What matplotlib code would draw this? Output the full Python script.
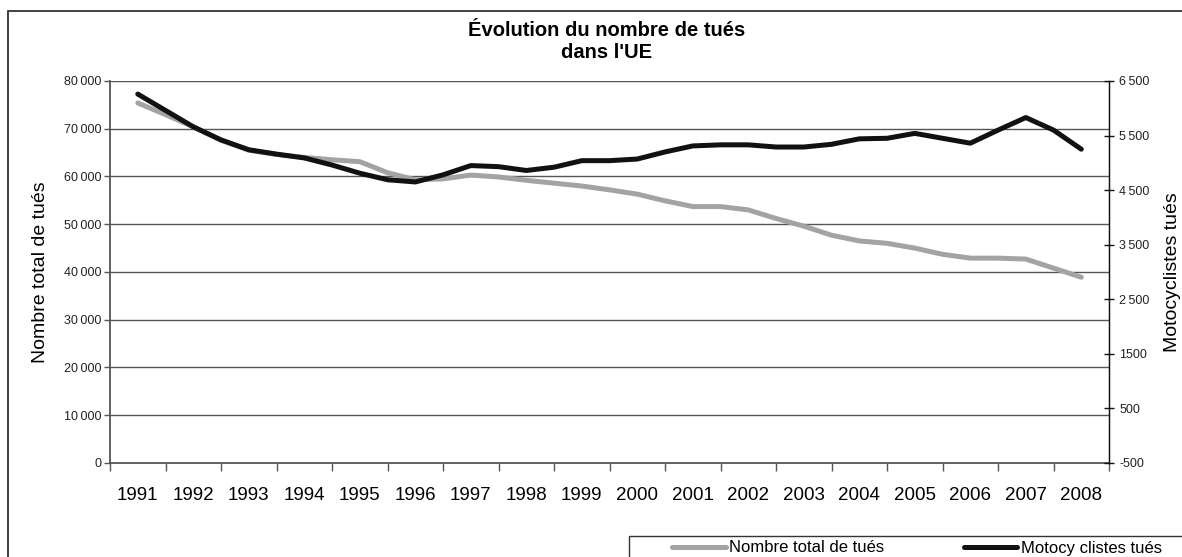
import numpy as np
import matplotlib.pyplot as plt
from matplotlib.lines import Line2D
from matplotlib.patches import Rectangle

plt.rcParams["font.family"] = ["Liberation Sans", "DejaVu Sans"]

# --- données (lectures sur le graphique, tous les semestres) ---
annees = [str(a) for a in range(1991, 2009)]

# nombre total de tués (axe de gauche)
total_tues = [
    75400, 72950, 70400, 67600, 65500, 64600, 64000, 63500, 63100, 60800,
    59300, 59500, 60300, 59900, 59200, 58600, 58000, 57200, 56300, 54900,
    53700, 53700, 53000, 51200, 49600, 47700, 46500, 46000, 45000, 43700,
    42900, 42900, 42700, 40800, 38900,
]

# motocyclistes tués (axe de droite)
moto_tues = [
    6260, 5960, 5660, 5420, 5240, 5160, 5090, 4960, 4810, 4690,
    4650, 4780, 4950, 4930, 4860, 4920, 5040, 5040, 5070, 5200,
    5310, 5330, 5330, 5290, 5290, 5340, 5440, 5450, 5540, 5450,
    5360, 5600, 5830, 5600, 5250,
]

gauche_ticks = list(range(0, 80001, 10000))
gauche_labels = ["0", "10\u2009000", "20\u2009000", "30\u2009000", "40\u2009000",
                 "50\u2009000", "60\u2009000", "70\u2009000", "80\u2009000"]
droite_ticks = list(range(-500, 6501, 1000))
droite_labels = ["-500", "500", "1500", "2\u2009500", "3\u2009500",
                 "4\u2009500", "5\u2009500", "6\u2009500"]

pos = np.arange(len(total_tues)) * 0.5

fig = plt.figure(figsize=(11.82, 5.57), dpi=100)
ax = fig.add_axes([0.0931, 0.1688, 0.8452, 0.6858])
ax2 = ax.twinx()

gris = "#a3a3a3"
noir = "#111111"

ax.plot(pos, total_tues, color=gris, lw=3.6, solid_joinstyle="round",
        solid_capstyle="round")
ax2.plot(pos, moto_tues, color=noir, lw=3.6, solid_joinstyle="round",
         solid_capstyle="round")

# axe gauche
ax.set_ylim(0, 80000)
ax.set_yticks(gauche_ticks)
ax.set_yticklabels(gauche_labels)
ax.tick_params(axis="y", direction="out", length=4, width=1, color="#555555",
               labelsize=9, pad=2, labelcolor="#222222")
for y in gauche_ticks[1:]:
    ax.axhline(y, color="#555555", lw=1.0, zorder=0)
ax.set_ylabel("Nombre total de tués", fontsize=14, labelpad=11)

# axe des x : catégories
ax.set_xlim(-0.5, 17.5)
ax.set_xticks(np.arange(-0.5, 18.0, 1.0))
ax.set_xticklabels([])
ax.set_xticks(np.arange(18), minor=True)
ax.set_xticklabels(annees, minor=True)
ax.tick_params(axis="x", which="major", direction="out", length=6, width=1,
               color="#555555")
ax.tick_params(axis="x", which="minor", length=0, labelsize=13.5, pad=17)

# axe droit
ax2.set_ylim(-500, 6500)
ax2.set_yticks(droite_ticks)
ax2.set_yticklabels(droite_labels)
ax2.tick_params(axis="y", direction="inout", length=7, width=1, color="#111111",
                labelsize=9, pad=4, labelcolor="#222222")
ax2.set_ylabel("Motocyclistes tués", fontsize=14, labelpad=10)

for a in (ax, ax2):
    a.spines["top"].set_visible(False)
ax.spines["left"].set_color("#555555")
ax.spines["left"].set_linewidth(1.3)
ax.spines["bottom"].set_color("#555555")
ax.spines["bottom"].set_linewidth(1.3)
ax2.spines["right"].set_color("#111111")
ax2.spines["right"].set_linewidth(1.0)
ax2.spines["left"].set_visible(False)
ax2.spines["bottom"].set_visible(False)

fig.text(0.513, 0.962, "Évolution du nombre de tués\ndans l'UE", ha="center",
         va="top", fontsize=14.5, fontweight="bold", linespacing=1.2)

# cadre extérieur et cadre de la légende
fig.add_artist(Rectangle((8 / 1182, -0.05), 1.1, (557 - 11) / 557 + 0.05,
                         transform=fig.transFigure, fill=False,
                         edgecolor="#333333", lw=1.3))
fig.add_artist(Rectangle((629 / 1182, -0.05), 0.5, (557 - 536) / 557 + 0.05,
                         transform=fig.transFigure, fill=False,
                         edgecolor="#333333", lw=1.0))

handles = [Line2D([], [], color=gris, lw=3.6, solid_capstyle="round"),
           Line2D([], [], color=noir, lw=3.6, solid_capstyle="round")]
fig.legend(handles, ["Nombre total de tués", "Motocy clistes tués"], ncol=2,
           loc="center left", bbox_to_anchor=(664 / 1182, (557 - 548) / 557),
           frameon=False, borderpad=0, handlelength=3.2, handletextpad=0.2,
           columnspacing=4.8, fontsize=12)

plt.savefig("out.png", dpi=100)
